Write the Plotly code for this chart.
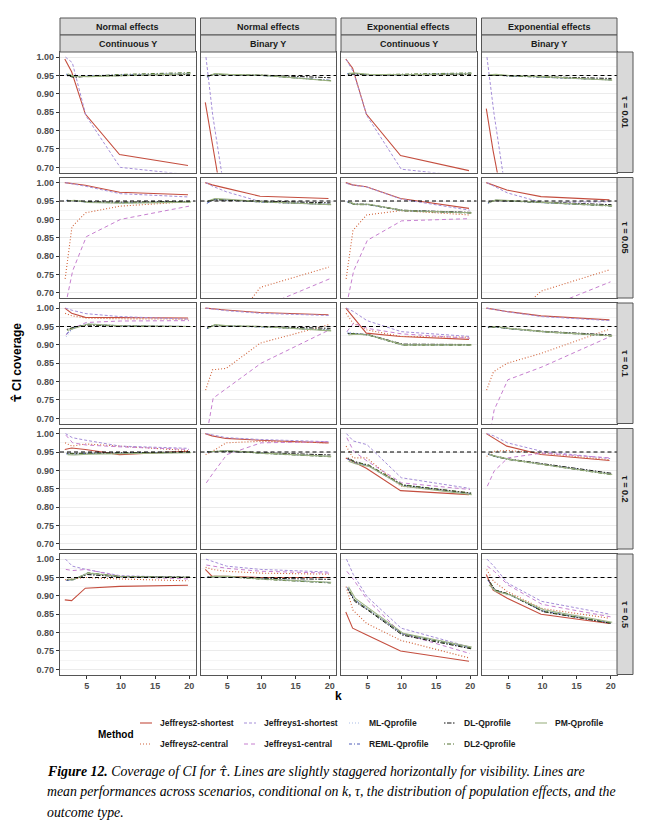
import plotly.graph_objects as go
from plotly.subplots import make_subplots

W, H = 660, 836

K = [2, 3, 5, 10, 20]
EFFECTS = ["Normal effects", "Normal effects", "Exponential effects", "Exponential effects"]
OUTCOMES = ["Continuous Y", "Binary Y", "Continuous Y", "Binary Y"]
TAUS = ["τ = 0.01", "τ = 0.05", "τ = 0.1", "τ = 0.2", "τ = 0.5"]
METHODS = ["Jeffreys2-shortest", "Jeffreys2-central", "Jeffreys1-shortest", "Jeffreys1-central",
           "ML-Qprofile", "REML-Qprofile", "DL-Qprofile", "DL2-Qprofile", "PM-Qprofile"]
TARGET = 0.95
X_TICKS = [5, 10, 15, 20]

# coverage[tau row][panel col] -> values at K
J2_SHORTEST = [
    [[0.995, 0.960, 0.845, 0.735, 0.705], [0.877, 0.765, 0.550, 0.450, 0.400],
     [0.995, 0.970, 0.845, 0.732, 0.691], [0.860, 0.745, 0.550, 0.450, 0.400]],
    [[1.000, 0.998, 0.993, 0.974, 0.967], [1.000, 0.994, 0.985, 0.963, 0.957],
     [1.000, 0.994, 0.989, 0.957, 0.930], [1.000, 0.994, 0.980, 0.962, 0.953]],
    [[1.000, 0.986, 0.975, 0.975, 0.973], [1.000, 0.999, 0.995, 0.988, 0.982],
     [1.000, 0.977, 0.932, 0.923, 0.915], [1.000, 0.997, 0.991, 0.979, 0.968]],
    [[0.957, 0.961, 0.957, 0.943, 0.952], [1.000, 0.994, 0.987, 0.982, 0.975],
     [0.934, 0.925, 0.906, 0.845, 0.834], [1.000, 0.989, 0.966, 0.943, 0.927]],
    [[0.889, 0.887, 0.921, 0.926, 0.929], [0.972, 0.953, 0.953, 0.950, 0.950],
     [0.856, 0.812, 0.794, 0.750, 0.722], [0.958, 0.916, 0.894, 0.850, 0.825]],
]
J2_CENTRAL = [
    [[0.30, 0.36, 0.42, 0.50, 0.56], [0.10, 0.15, 0.22, 0.30, 0.38],
     [0.30, 0.36, 0.42, 0.50, 0.56], [0.10, 0.15, 0.22, 0.30, 0.38]],
    [[0.738, 0.880, 0.918, 0.936, 0.948], [0.480, 0.540, 0.595, 0.715, 0.770],
     [0.738, 0.870, 0.912, 0.924, 0.912], [0.480, 0.520, 0.620, 0.705, 0.763]],
    [[0.986, 0.979, 0.973, 0.971, 0.970], [0.777, 0.832, 0.836, 0.905, 0.955],
     [0.986, 0.959, 0.941, 0.923, 0.921], [0.777, 0.827, 0.850, 0.877, 0.943]],
    [[0.975, 0.966, 0.972, 0.966, 0.954], [0.943, 0.952, 0.975, 0.979, 0.975],
     [0.966, 0.934, 0.934, 0.857, 0.839], [0.938, 0.952, 0.954, 0.947, 0.929]],
    [[0.944, 0.946, 0.950, 0.946, 0.941], [0.978, 0.972, 0.967, 0.962, 0.959],
     [0.925, 0.861, 0.825, 0.779, 0.731], [0.972, 0.940, 0.912, 0.866, 0.839]],
]
J1_SHORTEST = [
    [[1.000, 0.985, 0.840, 0.700, 0.680], [1.000, 0.840, 0.600, 0.500, 0.450],
     [0.993, 0.960, 0.840, 0.695, 0.675], [1.000, 0.850, 0.600, 0.500, 0.450]],
    [[1.000, 0.997, 0.990, 0.970, 0.961], [1.000, 0.990, 0.975, 0.948, 0.940],
     [0.998, 0.993, 0.988, 0.955, 0.925], [1.000, 0.990, 0.972, 0.946, 0.948]],
    [[1.000, 0.994, 0.985, 0.977, 0.970], [1.000, 0.998, 0.993, 0.986, 0.980],
     [1.000, 0.991, 0.966, 0.936, 0.923], [1.000, 0.997, 0.990, 0.977, 0.966]],
    [[1.000, 0.989, 0.982, 0.966, 0.960], [1.000, 0.996, 0.989, 0.984, 0.978],
     [1.000, 0.980, 0.970, 0.880, 0.851], [1.000, 0.994, 0.975, 0.952, 0.932]],
    [[1.000, 0.981, 0.972, 0.955, 0.950], [1.000, 0.993, 0.981, 0.972, 0.965],
     [1.000, 0.958, 0.898, 0.812, 0.761], [1.000, 0.981, 0.935, 0.885, 0.850]],
]
J1_CENTRAL = [
    [[0.20, 0.26, 0.32, 0.40, 0.46], [0.05, 0.08, 0.14, 0.22, 0.30],
     [0.20, 0.26, 0.32, 0.40, 0.46], [0.05, 0.08, 0.14, 0.22, 0.30]],
    [[0.670, 0.760, 0.853, 0.900, 0.936], [0.420, 0.470, 0.550, 0.660, 0.738],
     [0.670, 0.760, 0.843, 0.896, 0.902], [0.400, 0.450, 0.550, 0.655, 0.730]],
    [[0.927, 0.945, 0.961, 0.965, 0.966], [0.650, 0.755, 0.782, 0.850, 0.941],
     [0.936, 0.959, 0.945, 0.930, 0.918], [0.620, 0.723, 0.805, 0.840, 0.923]],
    [[0.996, 0.975, 0.969, 0.964, 0.957], [0.866, 0.893, 0.943, 0.975, 0.978],
     [0.989, 0.952, 0.925, 0.866, 0.848], [0.857, 0.898, 0.934, 0.947, 0.934]],
    [[0.972, 0.969, 0.972, 0.953, 0.946], [0.984, 0.981, 0.975, 0.967, 0.962],
     [0.967, 0.944, 0.889, 0.798, 0.743], [0.981, 0.967, 0.930, 0.877, 0.843]],
]
ML_QPROFILE = [
    [[0.954, 0.948, 0.950, 0.952, 0.956], [0.946, 0.953, 0.952, 0.950, 0.937],
     [0.955, 0.956, 0.953, 0.952, 0.956], [0.950, 0.952, 0.949, 0.946, 0.938]],
    [[0.951, 0.951, 0.946, 0.945, 0.948], [0.943, 0.954, 0.953, 0.948, 0.941],
     [0.948, 0.941, 0.941, 0.924, 0.918], [0.944, 0.952, 0.951, 0.945, 0.937]],
    [[0.922, 0.944, 0.958, 0.952, 0.950], [0.944, 0.954, 0.952, 0.949, 0.940],
     [0.936, 0.932, 0.928, 0.901, 0.900], [0.947, 0.949, 0.944, 0.936, 0.925]],
    [[0.945, 0.944, 0.945, 0.947, 0.949], [0.950, 0.951, 0.953, 0.947, 0.938],
     [0.930, 0.920, 0.912, 0.858, 0.836], [0.944, 0.938, 0.930, 0.916, 0.889]],
    [[0.942, 0.944, 0.962, 0.952, 0.950], [0.950, 0.953, 0.952, 0.946, 0.936],
     [0.924, 0.891, 0.864, 0.797, 0.760], [0.942, 0.914, 0.904, 0.860, 0.827]],
]
REML_QPROFILE = [
    [[0.953, 0.947, 0.949, 0.951, 0.955], [0.946, 0.953, 0.952, 0.950, 0.937],
     [0.955, 0.955, 0.952, 0.952, 0.956], [0.950, 0.952, 0.949, 0.946, 0.938]],
    [[0.951, 0.951, 0.947, 0.945, 0.948], [0.944, 0.954, 0.953, 0.947, 0.941],
     [0.947, 0.941, 0.940, 0.924, 0.918], [0.944, 0.952, 0.950, 0.945, 0.937]],
    [[0.930, 0.946, 0.956, 0.952, 0.950], [0.944, 0.954, 0.951, 0.949, 0.940],
     [0.932, 0.930, 0.927, 0.900, 0.900], [0.947, 0.949, 0.944, 0.936, 0.925]],
    [[0.945, 0.944, 0.946, 0.947, 0.949], [0.950, 0.951, 0.953, 0.947, 0.938],
     [0.931, 0.921, 0.913, 0.859, 0.837], [0.944, 0.938, 0.930, 0.916, 0.890]],
    [[0.942, 0.944, 0.961, 0.952, 0.950], [0.950, 0.953, 0.952, 0.946, 0.936],
     [0.922, 0.890, 0.863, 0.797, 0.759], [0.943, 0.915, 0.904, 0.859, 0.826]],
]
DL_QPROFILE = [
    [[0.950, 0.945, 0.948, 0.950, 0.953], [0.949, 0.953, 0.952, 0.951, 0.944],
     [0.952, 0.954, 0.951, 0.951, 0.953], [0.950, 0.951, 0.949, 0.947, 0.942]],
    [[0.952, 0.950, 0.948, 0.947, 0.949], [0.949, 0.953, 0.952, 0.949, 0.945],
     [0.947, 0.942, 0.941, 0.925, 0.919], [0.947, 0.951, 0.950, 0.947, 0.940]],
    [[0.942, 0.948, 0.954, 0.951, 0.950], [0.947, 0.953, 0.951, 0.950, 0.945],
     [0.931, 0.930, 0.928, 0.902, 0.901], [0.948, 0.949, 0.945, 0.937, 0.927]],
    [[0.947, 0.946, 0.947, 0.948, 0.950], [0.951, 0.952, 0.952, 0.948, 0.942],
     [0.934, 0.924, 0.914, 0.860, 0.838], [0.945, 0.939, 0.931, 0.918, 0.892]],
    [[0.944, 0.945, 0.958, 0.952, 0.951], [0.951, 0.952, 0.951, 0.948, 0.945],
     [0.918, 0.885, 0.860, 0.793, 0.756], [0.944, 0.916, 0.905, 0.857, 0.825]],
]
DL2_QPROFILE = [
    [[0.952, 0.946, 0.948, 0.953, 0.958], [0.947, 0.954, 0.952, 0.950, 0.936],
     [0.954, 0.956, 0.952, 0.953, 0.957], [0.951, 0.952, 0.949, 0.946, 0.938]],
    [[0.951, 0.951, 0.947, 0.946, 0.948], [0.948, 0.955, 0.953, 0.947, 0.941],
     [0.946, 0.940, 0.940, 0.923, 0.917], [0.946, 0.952, 0.950, 0.945, 0.936]],
    [[0.940, 0.947, 0.955, 0.951, 0.950], [0.946, 0.954, 0.951, 0.949, 0.940],
     [0.930, 0.931, 0.926, 0.899, 0.899], [0.947, 0.949, 0.944, 0.935, 0.924]],
    [[0.946, 0.945, 0.946, 0.947, 0.949], [0.951, 0.951, 0.953, 0.946, 0.937],
     [0.932, 0.922, 0.915, 0.861, 0.838], [0.944, 0.937, 0.929, 0.915, 0.888]],
    [[0.943, 0.944, 0.963, 0.953, 0.951], [0.951, 0.953, 0.952, 0.945, 0.935],
     [0.920, 0.888, 0.862, 0.796, 0.758], [0.942, 0.915, 0.905, 0.858, 0.826]],
]
PM_QPROFILE = [
    [[0.955, 0.948, 0.947, 0.950, 0.955], [0.948, 0.955, 0.953, 0.951, 0.935],
     [0.956, 0.957, 0.953, 0.952, 0.955], [0.952, 0.953, 0.950, 0.947, 0.937]],
    [[0.950, 0.952, 0.946, 0.944, 0.947], [0.950, 0.957, 0.955, 0.948, 0.940],
     [0.948, 0.941, 0.941, 0.924, 0.918], [0.945, 0.953, 0.951, 0.946, 0.937]],
    [[0.939, 0.945, 0.957, 0.952, 0.950], [0.945, 0.955, 0.952, 0.950, 0.938],
     [0.927, 0.929, 0.927, 0.900, 0.900], [0.948, 0.950, 0.945, 0.936, 0.925]],
    [[0.943, 0.942, 0.944, 0.946, 0.948], [0.950, 0.952, 0.954, 0.947, 0.938],
     [0.925, 0.918, 0.911, 0.857, 0.834], [0.943, 0.938, 0.930, 0.916, 0.889]],
    [[0.945, 0.946, 0.962, 0.952, 0.950], [0.950, 0.953, 0.953, 0.946, 0.937],
     [0.925, 0.893, 0.866, 0.798, 0.761], [0.930, 0.912, 0.903, 0.862, 0.828]],
]

SERIES = [J2_SHORTEST, J2_CENTRAL, J1_SHORTEST, J1_CENTRAL,
          ML_QPROFILE, REML_QPROFILE, DL_QPROFILE, DL2_QPROFILE, PM_QPROFILE]

# line styles per method
STYLES = [
    dict(color="#C44E3F", dash="solid", width=1.1),
    dict(color="#D0633A", dash="1px,2px", width=1.1),
    dict(color="#A58ED8", dash="3px,2px", width=1.0),
    dict(color="#C67FCF", dash="4px,3px", width=1.0),
    dict(color="#A9BCE6", dash="1px,2px", width=1.0),
    dict(color="#4F5DB8", dash="3px,2px,1px,2px", width=1.0),
    dict(color="#111111", dash="1.5px,1.5px,4.5px,1.5px", width=1.0),
    dict(color="#50702F", dash="1px,2px,4px,2px", width=1.0),
    dict(color="#9DB383", dash="solid", width=1.1),
]
DODGE = 0.05  # slight horizontal stagger between methods

FONT = "Liberation Sans, Arial, sans-serif"
SERIF = "Liberation Serif, Times New Roman, serif"
TAU_HAT_SERIF = "<span style='font-family:DejaVu Serif'>τ̂</span>"
TAU_HAT_SANS = "<span style='font-family:DejaVu Sans'>τ̂</span>"

# panel geometry in pixels
COL_X0, COL_W, COL_GAP = 60, 135.5, 5
ROW_Y0, ROW_H, ROW_GAP = 52, 120.5, 5


def px(xp):
    return xp / W


def py(yp):
    return 1 - yp / H


fig = make_subplots(rows=5, cols=4)

for r in range(5):
    for c in range(4):
        for m, series in enumerate(SERIES):
            off = (m - 4) * DODGE
            fig.add_trace(go.Scatter(
                x=[k + off for k in K], y=series[r][c],
                mode="lines", name=METHODS[m],
                line=STYLES[m], showlegend=False, hoverinfo="skip",
            ), row=r + 1, col=c + 1)

fig.add_hline(y=TARGET, row="all", col="all",
              line=dict(color="#000000", dash="4px,3px", width=1.2))

shapes = list(fig.layout.shapes)
annotations = []

for r in range(5):
    top = ROW_Y0 + r * (ROW_H + ROW_GAP)
    fig.update_yaxes(domain=[py(top + ROW_H), py(top)], row=r + 1)
    shapes.append(dict(type="rect", xref="paper", yref="paper",
                       x0=px(617), x1=px(633), y0=py(top + ROW_H), y1=py(top),
                       fillcolor="#D9D9D9", line=dict(color="#555555", width=1)))
    annotations.append(dict(text="<b>" + TAUS[r] + "</b>", x=px(625), y=py(top + ROW_H / 2),
                            xref="paper", yref="paper", xanchor="center", yanchor="middle",
                            showarrow=False, textangle=90,
                            font=dict(family=FONT, size=9, color="#1A1A1A")))

for c in range(4):
    left = COL_X0 + c * (COL_W + COL_GAP)
    fig.update_xaxes(domain=[px(left), px(left + COL_W)], col=c + 1)
    for (y0, y1, label) in [(18, 35, EFFECTS[c]), (35, 52, OUTCOMES[c])]:
        shapes.append(dict(type="rect", xref="paper", yref="paper",
                           x0=px(left), x1=px(left + COL_W), y0=py(y1), y1=py(y0),
                           fillcolor="#D9D9D9", line=dict(color="#555555", width=1)))
        annotations.append(dict(text="<b>" + label + "</b>", x=px(left + COL_W / 2),
                                y=py((y0 + y1) / 2), xref="paper", yref="paper",
                                xanchor="center", yanchor="middle", showarrow=False,
                                font=dict(family=FONT, size=9, color="#1A1A1A")))

fig.update_xaxes(range=[1.1, 20.9], tickvals=X_TICKS, showgrid=False, zeroline=False,
                 showline=True, mirror=True, linecolor="#555555", linewidth=1.2,
                 ticks="", showticklabels=False)
fig.update_xaxes(row=5, ticks="outside", ticklen=3, tickcolor="#333333", tickwidth=1,
                 showticklabels=True,
                 tickfont=dict(family=FONT, size=9, color="#4D4D4D", weight="bold"))
fig.update_yaxes(range=[0.686, 1.014], tick0=0.70, dtick=0.05, tickformat=".2f",
                 showgrid=True, gridcolor="#EBEBEB", gridwidth=1, zeroline=False,
                 minor=dict(tick0=0.725, dtick=0.05, showgrid=True,
                            gridcolor="#F5F5F5", gridwidth=0.6),
                 showline=True, mirror=True, linecolor="#555555", linewidth=1.2,
                 ticks="", showticklabels=False)
fig.update_yaxes(col=1, ticks="outside", ticklen=3, tickcolor="#333333", tickwidth=1,
                 showticklabels=True,
                 tickfont=dict(family=FONT, size=9, color="#4D4D4D", weight="bold"))

# axis titles
annotations.append(dict(text="<b>k</b>", x=px(338), y=py(696), xref="paper", yref="paper",
                        xanchor="center", yanchor="middle", showarrow=False,
                        font=dict(family=FONT, size=12, color="#000000")))
annotations.append(dict(text="<b>" + TAU_HAT_SANS + " CI coverage</b>", x=px(17), y=py(363),
                        xref="paper", yref="paper", xanchor="center", yanchor="middle",
                        showarrow=False, textangle=-90,
                        font=dict(family=FONT, size=12, color="#000000")))

# legend (two rows, filled column by column)
annotations.append(dict(text="<b>Method</b>", x=px(96), y=py(734), xref="paper", yref="paper",
                        xanchor="left", yanchor="middle", showarrow=False,
                        font=dict(family=FONT, size=10, color="#000000")))
LEG_TEXT_X = [158, 262, 367, 462, 553]
LEG_ROW_Y = [723, 744]
for m, name in enumerate(METHODS):
    col, row = divmod(m, 2)
    tx, ty = LEG_TEXT_X[col], LEG_ROW_Y[row]
    shapes.append(dict(type="line", xref="paper", yref="paper",
                       x0=px(tx - 18), x1=px(tx - 6), y0=py(ty), y1=py(ty),
                       line=STYLES[m]))
    annotations.append(dict(text="<b>" + name + "</b>", x=px(tx), y=py(ty), xref="paper",
                            yref="paper", xanchor="left", yanchor="middle", showarrow=False,
                            font=dict(family=FONT, size=8.5, color="#1A1A1A")))

# caption
CAPTION = [
    "<b><i>Figure 12.</i></b><i> Coverage of CI for " + TAU_HAT_SERIF
    + ". Lines are slightly staggered horizontally for visibility. Lines are</i>",
    "<i>mean performances across scenarios, conditional on k, τ, the distribution of population effects, and the</i>",
    "<i>outcome type.</i>",
]
for i, line in enumerate(CAPTION):
    annotations.append(dict(text=line, x=px(45), y=py(771 + i * 20.5), xref="paper",
                            yref="paper", xanchor="left", yanchor="middle", showarrow=False,
                            font=dict(family=SERIF, size=13.8, color="#000000")))

fig.update_layout(
    width=W, height=H,
    margin=dict(l=0, r=0, t=0, b=0),
    paper_bgcolor="white", plot_bgcolor="white",
    shapes=shapes, annotations=annotations,
    showlegend=False,
)

fig.write_html("out.html", config={"displayModeBar": False},
               post_script="document.body.style.margin='0';")
